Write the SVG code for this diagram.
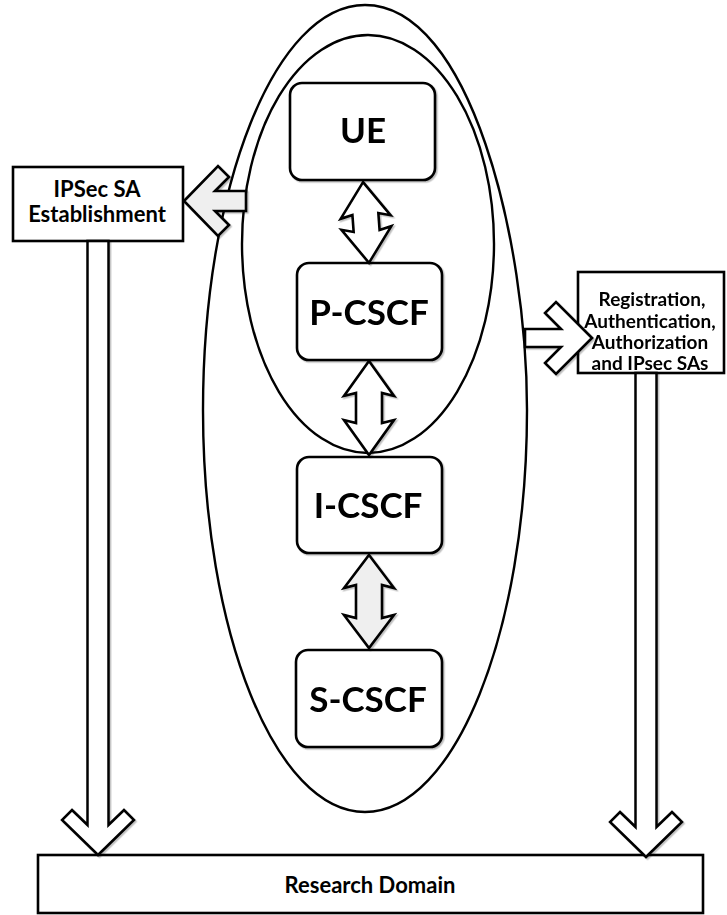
<svg xmlns="http://www.w3.org/2000/svg" width="727" height="915" viewBox="0 0 727 915">
  <defs>
    <style>
      .bg { fill: #ffffff; }
      .ring { fill: none; stroke: #000; stroke-width: 2.4; }
      .node { fill: #ffffff; stroke: #000; stroke-width: 2.6; }
      .box { fill: #ffffff; stroke: #000; stroke-width: 2.6; }
      .big { font-family: Lato, "Liberation Sans", sans-serif; font-weight: bold; font-size: 35px; text-anchor: middle; fill: #000; }
      .small { font-family: Lato, "Liberation Sans", sans-serif; font-weight: bold; font-size: 22px; text-anchor: middle; fill: #000; }
      .label { font-family: Lato, "Liberation Sans", sans-serif; font-weight: bold; font-size: 19px; text-anchor: middle; fill: #000; }
      .arrow { fill: #ffffff; stroke: #000; stroke-width: 2.6; stroke-linejoin: miter; }
      .arrow.grey { fill: #efefef; }
    </style>
    <filter id="soft" x="-10%" y="-10%" width="130%" height="130%">
      <feDropShadow dx="1.5" dy="1.5" stdDeviation="0.7" flood-color="#000" flood-opacity="0.25"/>
    </filter>
  </defs>

  <rect class="bg" x="0" y="0" width="727" height="915"/>

  <!-- domain rings -->
  <g id="rings">
    <path class="ring" d="M365,5 C470,5 527,240 527,410 C527,632 454.5,812 365,812 C275.5,812 203,632 203,410 C203,186 275.5,5 365,5 Z"/>
    <ellipse class="ring" cx="368" cy="244" rx="126" ry="209"/>
  </g>

  <!-- core nodes -->
  <g id="ue" filter="url(#soft)">
    <rect class="node" x="290" y="83" width="145" height="97" rx="12"/>
    <text class="big" x="363" y="143">UE</text>
  </g>
  <g id="p-cscf" filter="url(#soft)">
    <rect class="node" x="297" y="263" width="145" height="97" rx="12"/>
    <text class="big" x="369" y="325">P-CSCF</text>
  </g>
  <g id="i-cscf" filter="url(#soft)">
    <rect class="node" x="297" y="457" width="145" height="96" rx="12"/>
    <text class="big" x="368" y="518">I-CSCF</text>
  </g>
  <g id="s-cscf" filter="url(#soft)">
    <rect class="node" x="296" y="650" width="146" height="97" rx="12"/>
    <text class="big" x="368" y="712">S-CSCF</text>
  </g>

  <!-- side boxes -->
  <g id="ipsec-sa">
    <rect class="box" x="13" y="167" width="170" height="74"/>
    <text class="small" x="97" y="197">IPSec SA</text>
    <text class="small" x="97" y="222">Establishment</text>
  </g>
  <g id="research-domain">
    <rect class="box" x="38" y="855" width="665" height="58"/>
    <text class="small" x="370" y="893">Research Domain</text>
  </g>
  <g id="registration">
    <rect class="box" x="578" y="272" width="146" height="101"/>
  </g>

  <!-- connectors -->
  <g id="connectors" filter="url(#soft)">
    <!-- UE <-> P-CSCF -->
    <path class="arrow" transform="translate(366,222.5) rotate(-4.2)"
          d="M0,-40.5 L25,-5.5 L13,-8.5 L13,8.5 L25,5.5 L0,40.5 L-25,5.5 L-13,8.5 L-13,-8.5 L-25,-5.5 Z"/>
    <!-- P-CSCF <-> I-CSCF -->
    <path class="arrow" transform="translate(369,408)"
          d="M0,-47 L25,-12 L13,-15 L13,15 L25,12 L0,47 L-25,12 L-13,15 L-13,-15 L-25,-12 Z"/>
    <!-- I-CSCF <-> S-CSCF -->
    <path class="arrow grey" transform="translate(369,601.5)"
          d="M0,-46.5 L25,-13.5 L13,-16.5 L13,16.5 L25,13.5 L0,46.5 L-25,13.5 L-13,16.5 L-13,-16.5 L-25,-13.5 Z"/>
    <!-- ring -> IPSec SA establishment -->
    <path class="arrow grey" transform="translate(184,201)"
          d="M0,0 L34,-35 L45,-24 L31,-10 L62,-10 L62,10 L31,10 L45,24 L34,35 Z"/>
    <!-- ring -> registration -->
    <path class="arrow" transform="translate(592,338) scale(-1,1)"
          d="M0,0 L36,-36 L47,-25 L31,-9 L67,-9 L67,9 L31,9 L47,25 L36,36 Z"/>
    <!-- IPSec SA establishment -> research domain -->
    <path class="arrow" transform="translate(98,855) rotate(90)"
          d="M0,0 L-35,-36 L-45,-26 L-30,-10.5 L-614,-10.5 L-614,10.5 L-30,10.5 L-45,26 L-35,36 Z"/>
    <!-- registration -> research domain -->
    <path class="arrow" transform="translate(646,857) rotate(90)"
          d="M0,0 L-35,-36 L-45,-26 L-30,-10.5 L-484,-10.5 L-484,10.5 L-30,10.5 L-45,26 L-35,36 Z"/>
  </g>

  <!-- registration box caption, above the arrow tip -->
  <g id="registration-label">
    <text class="label" x="652" y="306">Registration,</text>
    <text class="label" x="650" y="328">Authentication,</text>
    <text class="label" x="650" y="349">Authorization</text>
    <text class="label" x="650" y="370">and IPsec SAs</text>
  </g>
</svg>
